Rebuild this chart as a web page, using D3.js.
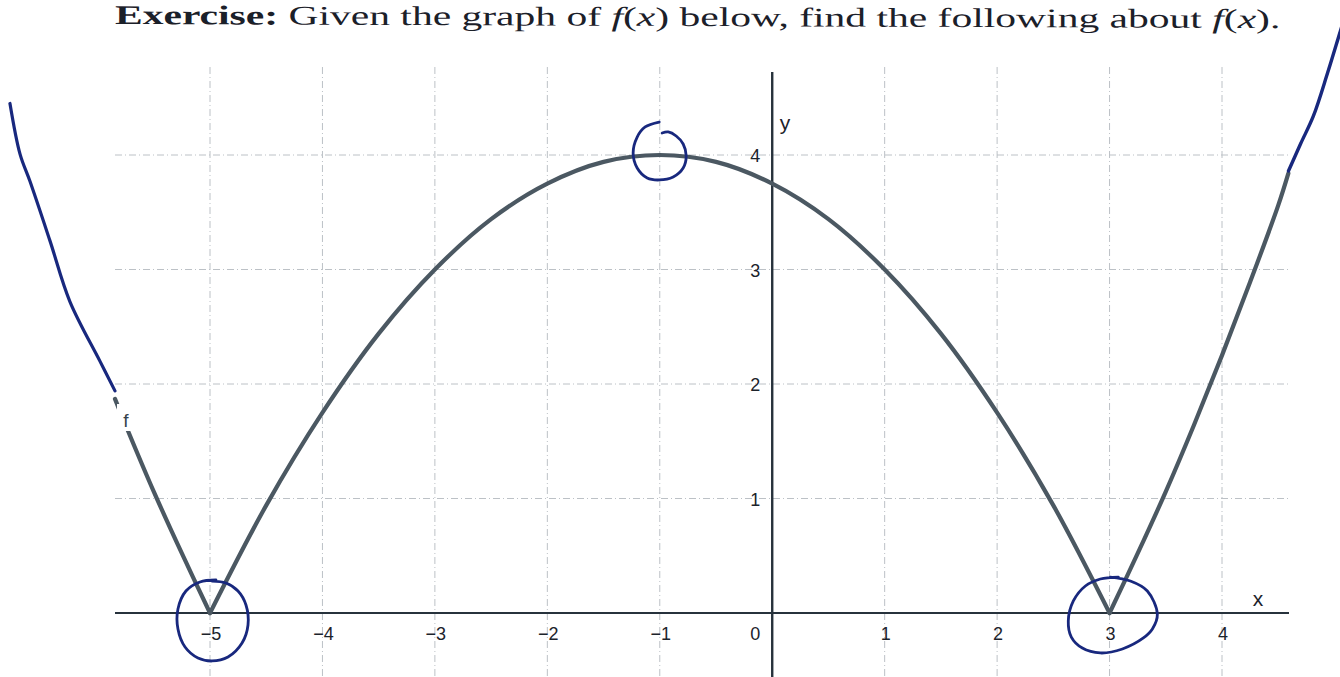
<!DOCTYPE html>
<html>
<head>
<meta charset="utf-8">
<script src="https://cdn.jsdelivr.net/npm/d3@7/dist/d3.min.js"></script>
<style>
  html, body { margin: 0; padding: 0; background: #ffffff; }
  svg { display: block; }
</style>
</head>
<body>
<svg id="chart" width="1340" height="677"></svg>
<script>
// Axis ticks
const xTicks = [-5, -4, -3, -2, -1, 0, 1, 2, 3, 4];
const yTicks = [1, 2, 3, 4];

// Printed graph of f, in three pieces so the corners at the zeros stay sharp
const leftBranchX = [-5.845, -5.75, -5.5, -5.25, -5];
const leftBranchY = [1.87, 1.64, 1.06, 0.52, 0];
const archX = [-5, -4.5, -4, -3.5, -3, -2.5, -2, -1.5, -1, -0.5, 0, 0.5, 1, 1.5, 2, 2.5, 3];
const archY = [0, 0.94, 1.75, 2.44, 3, 3.44, 3.75, 3.94, 4, 3.94, 3.75, 3.44, 3, 2.44, 1.75, 0.94, 0];
const rightBranchX = [3, 3.25, 3.5, 3.75, 4, 4.25, 4.5, 4.59];
const rightBranchY = [0, 0.52, 1.06, 1.64, 2.25, 2.89, 3.56, 3.84];

// Pen continuations of the graph
const penLeftX = [-5.845, -5.979, -6.246, -6.423, -6.601, -6.690, -6.779];
const penLeftY = [1.94, 2.20, 2.72, 3.25, 3.77, 4.01, 4.45];
const penRightX = [4.591, 4.70, 4.813, 4.94, 5.053, 5.10];
const penRightY = [3.86, 4.10, 4.341, 4.72, 5.083, 5.23];

// Pen circles around the zeros and the maximum
const ringZeroLeftX = [-4.947, -5.089, -5.214, -5.285, -5.285, -5.222, -5.107, -4.982, -4.840, -4.715, -4.662, -4.680, -4.751, -4.858, -4.982];
const ringZeroLeftY = [0.288, 0.271, 0.192, 0.035, -0.140, -0.297, -0.393, -0.419, -0.384, -0.262, -0.105, 0.070, 0.192, 0.262, 0.279];
const ringZeroRightX = [3.007, 3.185, 3.336, 3.425, 3.381, 3.301, 3.114, 2.918, 2.758, 2.660, 2.633, 2.678, 2.785, 2.918, 3.078];
const ringZeroRightY = [0.314, 0.279, 0.192, -0.009, -0.140, -0.218, -0.314, -0.349, -0.306, -0.210, -0.070, 0.105, 0.236, 0.297, 0.314];
const ringMaxX = [-1.005, -1.130, -1.201, -1.237, -1.201, -1.112, -1.005, -0.881, -0.792, -0.765, -0.792, -0.854, -0.925, -0.979];
const ringMaxY = [4.288, 4.245, 4.157, 4.017, 3.886, 3.799, 3.782, 3.808, 3.886, 3.991, 4.096, 4.166, 4.201, 4.192];

const svg = d3.select("#chart");
const W = 1340, H = 677;

const x = d3.scaleLinear().domain([-5, 4]).range([210, 1222]);
const y = d3.scaleLinear().domain([0, 4]).range([613, 155]);

const gridColor = "#bcc1c6";
const axisColor = "#27323c";
const curveColor = "#4b5862";
const penColor = "#18287e";

svg.append("rect").attr("width", W).attr("height", H).attr("fill", "#ffffff");

// Heading line of the exercise
const title = svg.append("text")
  .attr("font-family", "'Liberation Serif', 'DejaVu Serif', serif")
  .attr("font-size", 27)
  .attr("fill", "#1b2029");
title.append("tspan").attr("font-weight", "bold").text("Exercise:");
title.append("tspan").text(" Given the graph of ");
title.append("tspan").attr("font-style", "italic").text("f");
title.append("tspan").text("(");
title.append("tspan").attr("font-style", "italic").text("x");
title.append("tspan").text(") below, find the following about ");
title.append("tspan").attr("font-style", "italic").text("f");
title.append("tspan").text("(");
title.append("tspan").attr("font-style", "italic").text("x");
title.append("tspan").text(").");
const titleWidth = title.node().getComputedTextLength();
const sx = 1166 / titleWidth;
title.attr("transform", `translate(115,24) rotate(0.2) scale(${sx},1)`);

// Grid
const gridX0 = 115, gridX1 = 1290, gridTop = 67;
const grid = svg.append("g")
  .attr("stroke", gridColor)
  .attr("stroke-width", 1)
  .attr("stroke-dasharray", "7,3,1,3")
  .attr("fill", "none");
grid.selectAll("line.v")
  .data(xTicks.filter(d => d !== 0))
  .join("line")
  .attr("class", "v")
  .attr("x1", d => x(d)).attr("x2", d => x(d))
  .attr("y1", gridTop).attr("y2", H);
grid.selectAll("line.h")
  .data(yTicks)
  .join("line")
  .attr("class", "h")
  .attr("x1", gridX0).attr("x2", gridX1)
  .attr("y1", d => y(d)).attr("y2", d => y(d));

// Axes
svg.append("line")
  .attr("x1", gridX0).attr("x2", 1289)
  .attr("y1", y(0)).attr("y2", y(0))
  .attr("stroke", axisColor).attr("stroke-width", 2.2);
svg.append("line")
  .attr("x1", x(0)).attr("x2", x(0))
  .attr("y1", 72).attr("y2", H)
  .attr("stroke", axisColor).attr("stroke-width", 2.4);

const labelFont = "'Liberation Sans', Arial, sans-serif";
const fmt = d => (d < 0 ? "\u2212" + Math.abs(d) : String(d));

svg.append("g").selectAll("text")
  .data(xTicks)
  .join("text")
  .attr("x", d => d === 0 ? x(0) - 17 : x(d) + 1)
  .attr("y", y(0) + 27)
  .attr("text-anchor", "middle")
  .attr("font-family", labelFont)
  .attr("font-size", 18)
  .attr("fill", "#1c232b")
  .text(fmt);

svg.append("g").selectAll("text")
  .data(yTicks)
  .join("text")
  .attr("x", x(0) - 12)
  .attr("y", d => y(d) + 7)
  .attr("text-anchor", "end")
  .attr("font-family", labelFont)
  .attr("font-size", 18)
  .attr("fill", "#1c232b")
  .text(fmt);

svg.append("text")
  .attr("x", 1258).attr("y", 606)
  .attr("text-anchor", "middle")
  .attr("font-family", labelFont).attr("font-size", 21)
  .attr("fill", "#1c232b").text("x");
svg.append("text")
  .attr("x", 785).attr("y", 130)
  .attr("text-anchor", "middle")
  .attr("font-family", labelFont).attr("font-size", 21)
  .attr("fill", "#1c232b").text("y");

// Graph of f
const zipXY = (xs, ys) => xs.map((v, i) => [v, ys[i]]);
const smooth = d3.line()
  .x(d => x(d[0])).y(d => y(d[1]))
  .curve(d3.curveCatmullRom.alpha(0.5));

const graph = svg.append("g")
  .attr("fill", "none")
  .attr("stroke", curveColor)
  .attr("stroke-width", 4.2)
  .attr("stroke-linecap", "round")
  .attr("stroke-linejoin", "round");
[[leftBranchX, leftBranchY], [archX, archY], [rightBranchX, rightBranchY]]
  .forEach(([xs, ys]) => graph.append("path").attr("d", smooth(zipXY(xs, ys))));

// Curve label with a white backing that breaks the line
const fLabel = svg.append("g");
fLabel.append("rect")
  .attr("x", 117).attr("y", 404).attr("width", 17).attr("height", 27)
  .attr("fill", "#ffffff");
fLabel.append("text")
  .attr("x", 126).attr("y", 427)
  .attr("text-anchor", "middle")
  .attr("font-family", labelFont).attr("font-size", 19)
  .attr("fill", "#36424c").text("f");

// Pen marks
const pen = svg.append("g")
  .attr("fill", "none")
  .attr("stroke", penColor)
  .attr("stroke-linecap", "round")
  .attr("stroke-linejoin", "round");
pen.append("path").attr("stroke-width", 3.2).attr("d", smooth(zipXY(penLeftX, penLeftY)));
pen.append("path").attr("stroke-width", 3.4).attr("d", smooth(zipXY(penRightX, penRightY)));
pen.append("path").attr("stroke-width", 2.8).attr("d", smooth(zipXY(ringZeroLeftX, ringZeroLeftY)));
pen.append("path").attr("stroke-width", 2.8).attr("d", smooth(zipXY(ringZeroRightX, ringZeroRightY)));
pen.append("path").attr("stroke-width", 2.8).attr("d", smooth(zipXY(ringMaxX, ringMaxY)));
</script>
</body>
</html>
